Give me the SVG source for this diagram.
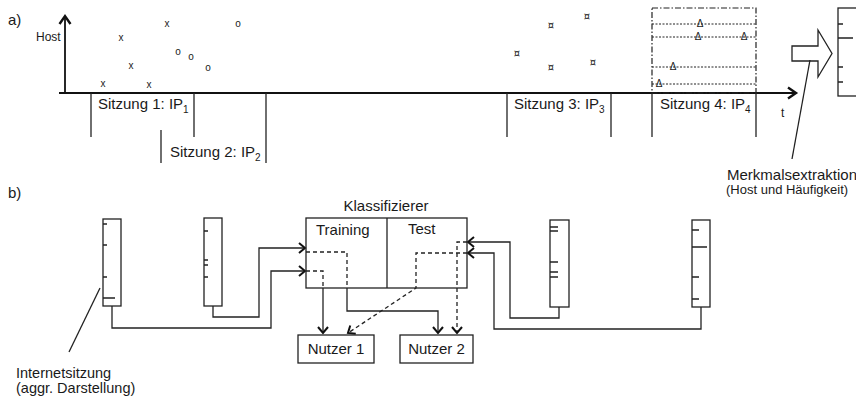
<svg xmlns="http://www.w3.org/2000/svg" width="856" height="401" viewBox="0 0 856 401">
<style>
text{font-family:"Liberation Sans",Arial,sans-serif;fill:#1a1a1a}
.t15{font-size:15px}
.t12{font-size:12px}
.sub{font-size:10px}
.mk{font-size:10px;text-anchor:middle}
.cu{font-size:10px;text-anchor:middle;font-family:"DejaVu Sans",sans-serif}
.ln{fill:none;stroke:#222;stroke-width:1.3}
.ax{fill:none;stroke:#111;stroke-width:1.8}
.dash{fill:none;stroke:#222;stroke-width:1.3;stroke-dasharray:4,3}
.dot{fill:none;stroke:#222;stroke-width:1;stroke-dasharray:2,1.5}
.dd{fill:none;stroke:#222;stroke-width:1.2;stroke-dasharray:6,2,1.5,2}
.box{fill:#fff;stroke:#222;stroke-width:1.3}
</style>
<defs>
<marker id="ah" markerUnits="userSpaceOnUse" markerWidth="14" markerHeight="14" viewBox="-8 -7 10 14" refX="0" refY="0" orient="auto">
<path d="M-6,-5 L0,0 L-6,5" fill="none" stroke="#111" stroke-width="2"/>
</marker>
<marker id="ah2" markerUnits="userSpaceOnUse" markerWidth="16" markerHeight="16" viewBox="-10 -8 12 16" refX="0" refY="0" orient="auto">
<path d="M-8,-5.5 L0,0 L-8,5.5" fill="none" stroke="#111" stroke-width="2.4"/>
</marker>
</defs>

<!-- Part a -->
<g id="part-a">
<text class="t15" x="8" y="25">a)</text>
<text class="t12" x="36" y="41">Host</text>
<line class="ax" x1="65" y1="93" x2="65" y2="16" marker-end="url(#ah2)"/>
<line class="ax" x1="59" y1="93" x2="796" y2="93" marker-end="url(#ah2)"/>
<text class="t12" x="781" y="117">t</text>
</g>

<g id="marks">
<text class="mk" x="103" y="87">x</text>
<text class="mk" x="121" y="41">x</text>
<text class="mk" x="131" y="69">x</text>
<text class="mk" x="149" y="88">x</text>
<text class="mk" x="167" y="27">x</text>
<text class="mk" x="178" y="55">o</text>
<text class="mk" x="191" y="60">o</text>
<text class="mk" x="208" y="71">o</text>
<text class="mk" x="238" y="27">o</text>
<text class="cu" x="517" y="57">¤</text>
<text class="cu" x="551" y="29">¤</text>
<text class="cu" x="587" y="20">¤</text>
<text class="cu" x="551" y="71">¤</text>
<text class="cu" x="593" y="66">¤</text>
</g>

<g id="session1">
<line class="ln" x1="91" y1="93" x2="91" y2="137"/>
<line class="ln" x1="194" y1="93" x2="194" y2="137"/>
<text class="t15" x="98" y="109">Sitzung 1: IP<tspan class="sub" dy="4">1</tspan></text>
</g>
<g id="session2">
<line class="ln" x1="161" y1="130" x2="161" y2="163"/>
<line class="ln" x1="266" y1="93" x2="266" y2="163"/>
<text class="t15" x="170" y="157">Sitzung 2: IP<tspan class="sub" dy="4">2</tspan></text>
</g>
<g id="session3">
<line class="ln" x1="507" y1="93" x2="507" y2="137"/>
<line class="ln" x1="611" y1="93" x2="611" y2="137"/>
<text class="t15" x="514" y="109">Sitzung 3: IP<tspan class="sub" dy="4">3</tspan></text>
</g>
<g id="session4">
<line class="ln" x1="652" y1="93" x2="652" y2="137"/>
<line class="ln" x1="756" y1="93" x2="756" y2="137"/>
<text class="t15" x="660" y="109">Sitzung 4: IP<tspan class="sub" dy="4">4</tspan></text>
<rect class="dd" x="652" y="8" width="104" height="85"/>
<line class="dot" x1="652" y1="24" x2="756" y2="24"/>
<line class="dot" x1="652" y1="37" x2="756" y2="37"/>
<line class="dot" x1="652" y1="67" x2="756" y2="67"/>
<line class="dot" x1="652" y1="84" x2="756" y2="84"/>
<text class="mk" x="700" y="27">Δ</text>
<text class="mk" x="698" y="40">Δ</text>
<text class="mk" x="744" y="40">Δ</text>
<text class="mk" x="673" y="70">Δ</text>
<text class="mk" x="659" y="87">Δ</text>
</g>

<g id="extraction">
<polygon class="box" points="792,46 818,46 818,30 832,53.5 818,77 818,61 792,61"/>
<line class="ln" x1="810" y1="60" x2="792" y2="159"/>
<text class="t15" x="727" y="180">Merkmalsextraktion</text>
<text x="726" y="194" style="font-size:13px">(Host und Häufigkeit)</text>
</g>
<g id="feature-vector">
<rect class="box" x="838" y="8" width="30" height="88"/>
<path class="ln" d="M838,24h5M838,38h15M838,67h5M838,82h5"/>
</g>

<!-- Part b -->
<text class="t15" x="8" y="198">b)</text>

<g id="connectors">
<path class="ln" d="M112,306V328H271V271H305" marker-end="url(#ah)"/>
<path class="ln" d="M213,306V317H259V248H305" marker-end="url(#ah)"/>
<path class="ln" d="M559,307V318H510V242H468" marker-end="url(#ah)"/>
<path class="ln" d="M701,307V329H494V253H468" marker-end="url(#ah)"/>
<path class="dash" d="M306,252H347V288"/>
<path class="ln" d="M347,288V311H438V333" marker-end="url(#ah)"/>
<path class="dash" d="M306,271H323V288"/>
<path class="ln" d="M323,288V333" marker-end="url(#ah)"/>
<path class="dash" d="M467,242H457V333" marker-end="url(#ah)"/>
<path class="dash" d="M467,253H416V288L348,333" marker-end="url(#ah)"/>
<line class="ln" x1="100" y1="288" x2="69" y2="352"/>
</g>

<g id="session-bar-1">
<rect class="box" x="103" y="219" width="18" height="87"/>
<path class="ln" d="M103,224h4M103,245h4M103,277h4M103,298h12"/>
</g>
<g id="session-bar-2">
<rect class="box" x="204" y="218" width="18" height="88"/>
<path class="ln" d="M204,231h4M204,260h4M204,265h4M204,277h4"/>
</g>
<g id="session-bar-3">
<rect class="box" x="550" y="220" width="19" height="87"/>
<path class="ln" d="M550,227h8M550,231h8M550,262h8M550,272h8M550,277h8"/>
</g>
<g id="session-bar-4">
<rect class="box" x="692" y="220" width="18" height="87"/>
<path class="ln" d="M692,230h7M692,247h15M692,277h7M692,299h7"/>
</g>

<g id="classifier">
<text class="t15" x="386" y="211" text-anchor="middle">Klassifizierer</text>
<rect class="ln" x="306" y="218" width="161" height="70"/>
<line class="ln" x1="387" y1="218" x2="387" y2="288"/>
<text class="t15" x="316" y="235">Training</text>
<text class="t15" x="408" y="234">Test</text>
</g>

<g id="user1">
<rect class="box" x="298" y="335" width="76" height="28"/>
<text class="t15" x="336" y="354" text-anchor="middle">Nutzer 1</text>
</g>
<g id="user2">
<rect class="box" x="400" y="335" width="73" height="28"/>
<text class="t15" x="436.5" y="354" text-anchor="middle">Nutzer 2</text>
</g>

<g id="label-session">
<text x="16" y="378" style="font-size:14.5px">Internetsitzung</text>
<text x="16" y="393" style="font-size:14.5px">(aggr. Darstellung)</text>
</g>
</svg>
